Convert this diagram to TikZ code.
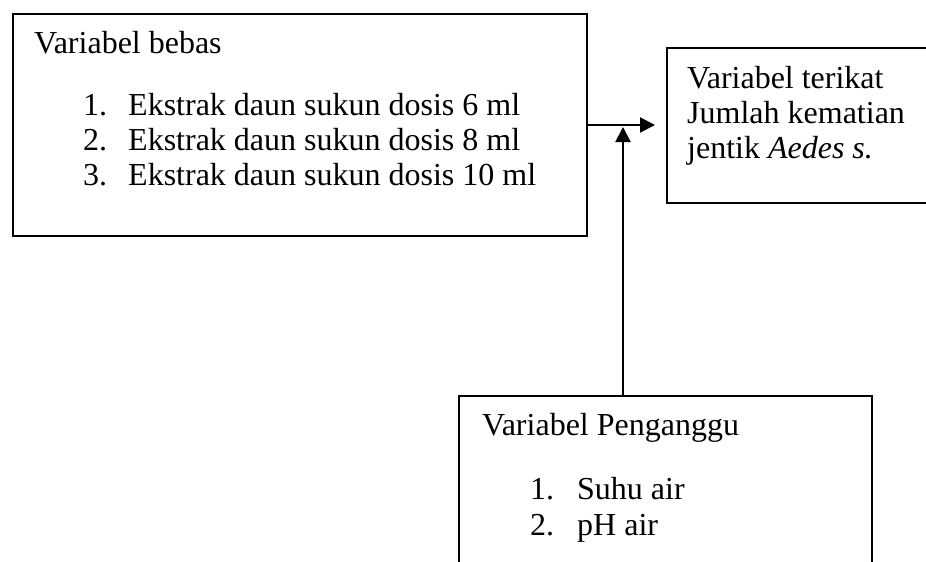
\documentclass[tikz,border=0pt]{standalone}
\usepackage{fontspec}
\setmainfont{Liberation Serif}
\usetikzlibrary{arrows.meta}
\begin{document}
\begin{tikzpicture}[x=1pt,y=-1pt,
  box/.style={draw,line width=2pt,rectangle,inner sep=0pt,anchor=north west},
  txt/.style={anchor=base west,inner sep=0pt,font=\fontsize{32}{38}\selectfont},
  conn/.style={line width=2pt,-{Triangle[length=15pt,width=15pt]}}]
\useasboundingbox (0,0) rectangle (926,562);
\clip (0,0) rectangle (926,562);
\fill[white] (0,0) rectangle (926,562);
% boxes
\node[box,minimum width=574pt,minimum height=222pt] (b1) at (12,13) {};
\node[box,minimum width=290pt,minimum height=155pt] (b2) at (666,47) {};
\node[box,minimum width=413pt,minimum height=200pt] (b3) at (458,395) {};
% box 1 text
\node[txt] (t1) at (34,53) {Variabel bebas};
\node[txt] (n11) at (83,115) {1.};
\node[txt] (i11) at (128,115) {Ekstrak daun sukun dosis 6 ml};
\node[txt] (n12) at (83,150) {2.};
\node[txt] (i12) at (128,150) {Ekstrak daun sukun dosis 8 ml};
\node[txt] (n13) at (83,185) {3.};
\node[txt] (i13) at (128,185) {Ekstrak daun sukun dosis 10 ml};
% box 2 text
\node[txt] (t21) at (687,88) {Variabel terikat};
\node[txt] (t22) at (687,123) {Jumlah kematian};
\node[txt] (t23) at (687,158) {jentik \textit{Aedes s.}};
% box 3 text
\node[txt] (t3) at (482,435) {Variabel Penganggu};
\node[txt] (n31) at (530,499) {1.};
\node[txt] (i31) at (577,499) {Suhu air};
\node[txt] (n32) at (530,535) {2.};
\node[txt] (i32) at (577,535) {pH air};
% connectors
\coordinate (j) at (623,124);
\draw[conn,shorten >=11pt] (b1.east) -- (b2.west |- b1.east);
\draw[conn,shorten >=3pt] (b3.north -| j) -- (j);
\end{tikzpicture}
\end{document}
